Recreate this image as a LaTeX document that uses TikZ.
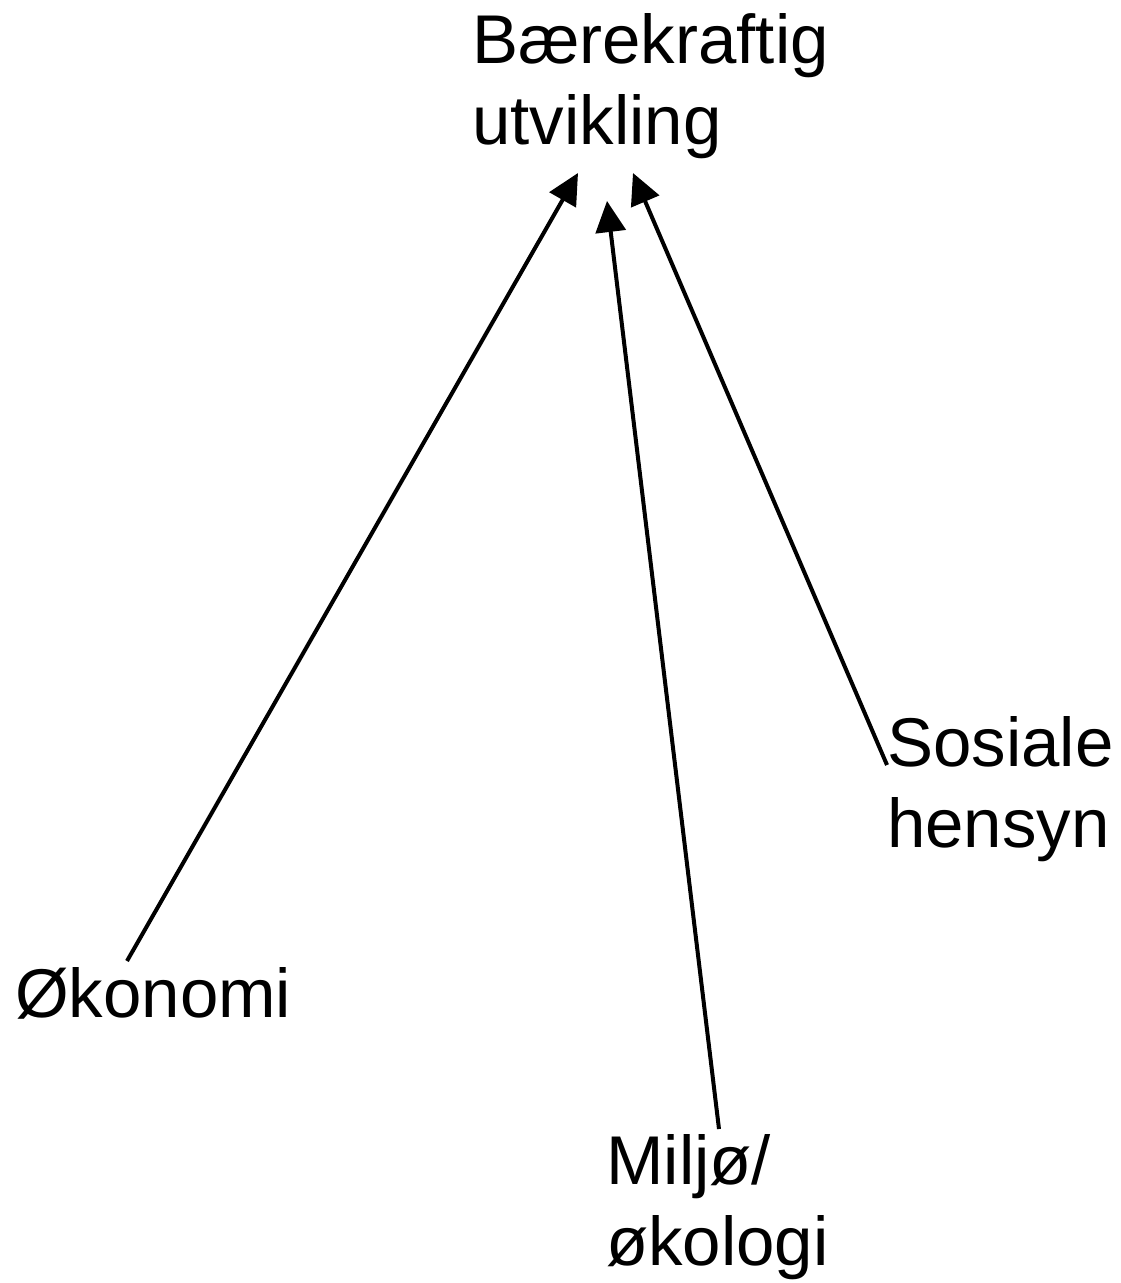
\documentclass[tikz,border=0pt]{standalone}
\usepackage{fontspec}
\setmainfont{Liberation Sans}
\usetikzlibrary{arrows.meta}
\tikzstyle{label}=[inner sep=0pt,anchor=base west,align=left,font=\fontsize{69}{81}\selectfont]
\tikzstyle{pil}=[line width=4pt,-{Triangle[length=31pt,width=30pt]}]
\begin{document}
\begin{tikzpicture}[x=1pt,y=-1pt]
\useasboundingbox (0,0) rectangle (1121,1283);
\node [label] (bu) at (472,144) {Bærekraftig\\utvikling};
\node [label] (oko) at (15,1017) {Økonomi};
\node [label] (mil) at (606,1265) {Miljø/\\økologi};
\node [label] (sos) at (887,847) {Sosiale\\hensyn};
% pilene
\coordinate (tipOko) at (578,173);
\coordinate (tipMil) at (607,201);
\coordinate (tipSos) at (633,173);
\coordinate (fraOko) at (127,961);
\coordinate (fraMil) at (719,1129);
\coordinate (fraSos) at (887,765);
\draw [pil] (fraOko) -- (tipOko);
\draw [pil] (fraMil) -- (tipMil);
\draw [pil] (fraSos) -- (tipSos);
\end{tikzpicture}
\end{document}
